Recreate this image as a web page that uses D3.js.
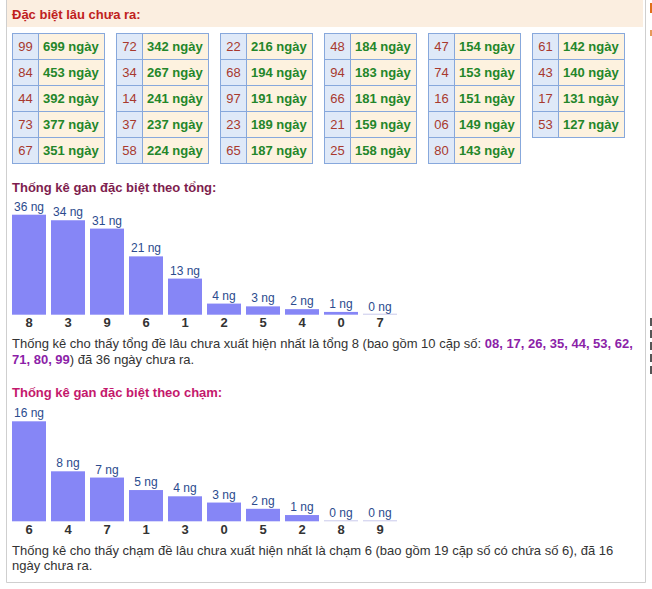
<!DOCTYPE html>
<html><head><meta charset="utf-8">
<script src="https://cdn.jsdelivr.net/npm/d3@7"></script>
<style>
html,body{margin:0;padding:0;background:#fff;overflow:hidden;}
svg{display:block;font-family:Arial,"Liberation Sans",sans-serif;}
</style></head>
<body>
<script>
// ---- data ----
const tableNums = [
  ["99","84","44","73","67"],
  ["72","34","14","37","58"],
  ["22","68","97","23","65"],
  ["48","94","66","21","25"],
  ["47","74","16","06","80"],
  ["61","43","17","53"]
];
const tableDays = [
  [699,453,392,377,351],
  [342,267,241,237,224],
  [216,194,191,189,187],
  [184,183,181,159,158],
  [154,153,151,149,143],
  [142,140,131,127]
];
const tongCats = ["8","3","9","6","1","2","5","4","0","7"];
const tongValues = [36,34,31,21,13,4,3,2,1,0];
const chamCats = ["6","4","7","1","3","0","5","2","8","9"];
const chamValues = [16,8,7,5,4,3,2,1,0,0];
const tongPairs = "08, 17, 26, 35, 44, 53, 62,";
const tongPairs2 = "71, 80, 99";

const W = 652, H = 589;
const svg = d3.select("body").append("svg").attr("width", W).attr("height", H);

// container
svg.append("rect").attr("x",7).attr("y",0).attr("width",636).attr("height",27).attr("fill","#fbeee0");
svg.append("line").attr("x1",6.5).attr("x2",6.5).attr("y1",0).attr("y2",582.5).attr("stroke","#cfcfcf");
svg.append("line").attr("x1",645.5).attr("x2",645.5).attr("y1",0).attr("y2",582.5).attr("stroke","#cfcfcf");
svg.append("line").attr("x1",6.5).attr("x2",645.5).attr("y1",582.5).attr("y2",582.5).attr("stroke","#cfcfcf");
// cut-off bits of a neighbouring column at the right edge
svg.append("rect").attr("x",650).attr("y",3).attr("width",4).attr("height",10).attr("fill","#e0701a");
svg.append("rect").attr("x",650).attr("y",30).attr("width",4).attr("height",6).attr("fill","#e69a5a");
[318,330,342,354,366].forEach(y=>{
  svg.append("rect").attr("x",650).attr("y",y).attr("width",2).attr("height",8).attr("fill","#555");
});

svg.append("text").attr("x",12).attr("y",19).attr("font-size",13).attr("font-weight","bold")
  .attr("fill","#c0211d").text("Đặc biệt lâu chưa ra:");

// tables
const tableX = d3.scaleLinear().domain([0,1]).range([12,116]);
const rowY = d3.scaleLinear().domain([0,1]).range([33,59]);
tableNums.forEach((nums, t) => {
  const g = svg.append("g").attr("transform", `translate(${tableX(t)},0)`);
  nums.forEach((n, r) => {
    const y0 = rowY(r), h = rowY(r+1)-rowY(r);
    g.append("rect").attr("x",0.5).attr("y",y0+0.5).attr("width",26).attr("height",h)
      .attr("fill","#dfe9f8").attr("stroke","#87a8dc");
    g.append("rect").attr("x",26.5).attr("y",y0+0.5).attr("width",66).attr("height",h)
      .attr("fill","#fdf2df").attr("stroke","#87a8dc");
    g.append("text").attr("x",13.5).attr("y",y0+18).attr("text-anchor","middle")
      .attr("font-size",13).attr("fill","#a8392e").text(n);
    g.append("text").attr("x",31).attr("y",y0+18)
      .attr("font-size",13).attr("font-weight","bold").attr("fill","#23862a").text(tableDays[t][r] + " ngày");
  });
});

function barChart(cats, vals, baseY, titleY, title, titleColor) {
  svg.append("text").attr("x",12).attr("y",titleY).attr("font-size",13).attr("font-weight","bold")
    .attr("fill",titleColor).text(title);
  const x = d3.scaleBand().domain(cats).range([12,397]).paddingInner(5/39).paddingOuter(0);
  const h = d3.scaleLinear().domain([0,d3.max(vals)]).range([0,100]);
  const g = svg.append("g");
  cats.forEach((c,i) => {
    const v = vals[i];
    const bh = h(v);
    if (v > 0) {
      g.append("rect").attr("x",x(c)).attr("y",baseY-bh).attr("width",x.bandwidth()).attr("height",bh)
        .attr("fill","#8686f6");
    } else {
      g.append("rect").attr("x",x(c)).attr("y",baseY-1).attr("width",x.bandwidth()).attr("height",1)
        .attr("fill","#c9c9ec");
    }
    g.append("text").attr("x",x(c)+x.bandwidth()/2).attr("y",baseY-bh-4).attr("text-anchor","middle")
      .attr("font-size",12).attr("fill","#2b4b8e").text(v + " ng");
    g.append("text").attr("x",x(c)+x.bandwidth()/2).attr("y",baseY+12.5).attr("text-anchor","middle")
      .attr("font-size",13).attr("font-weight","bold").attr("fill","#333").text(c);
  });
}

barChart(tongCats, tongValues, 314.7, 192, "Thống kê gan đặc biệt theo tổng:", "#7e1d4e");
barChart(chamCats, chamValues, 521.3, 397, "Thống kê gan đặc biệt theo chạm:", "#c4186c");

// descriptive texts
const t1 = svg.append("text").attr("x",12).attr("y",348).attr("font-size",13).attr("fill","#333");
t1.append("tspan").text("Thống kê cho thấy tổng đề lâu chưa xuất hiện nhất là tổng " + tongCats[0] + " (bao gồm 10 cặp số: ");
t1.append("tspan").attr("font-weight","bold").attr("fill","#8c1fa8").text(tongPairs);
const t2 = svg.append("text").attr("x",12).attr("y",364).attr("font-size",13).attr("fill","#333");
t2.append("tspan").attr("font-weight","bold").attr("fill","#8c1fa8").text(tongPairs2);
t2.append("tspan").text(") đã " + tongValues[0] + " ngày chưa ra.");

svg.append("text").attr("x",12).attr("y",555).attr("font-size",13).attr("fill","#333")
  .text("Thống kê cho thấy chạm đề lâu chưa xuất hiện nhất là chạm " + chamCats[0] + " (bao gồm 19 cặp số có chứa số " + chamCats[0] + "), đã " + chamValues[0]);
svg.append("text").attr("x",12).attr("y",570).attr("font-size",13).attr("fill","#333").text("ngày chưa ra.");
</script>
</body></html>
